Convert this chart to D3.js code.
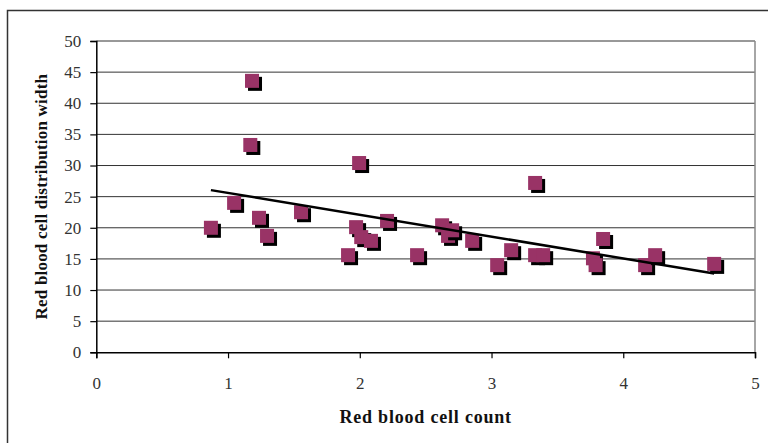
<!DOCTYPE html>
<html>
<head>
<meta charset="utf-8">
<script src="https://cdn.jsdelivr.net/npm/d3@7"></script>
<style>
  body { margin: 0; background: #fff; }
  svg { display: block; }
</style>
</head>
<body>
<script>
// data
var rbcCount = [0.87, 1.046, 1.169, 1.182, 1.235, 1.296, 1.554, 1.911, 1.972, 1.995,
                2.011, 2.085, 2.207, 2.435, 2.625, 2.670, 2.701, 2.853, 3.043, 3.149,
                3.331, 3.331, 3.392, 3.77, 3.79, 3.847, 4.166, 4.242, 4.69];
var rdw = [20.0, 24.0, 33.3, 43.6, 21.6, 18.7, 22.5, 15.6, 20.1, 30.4,
           18.5, 17.9, 21.1, 15.6, 20.4, 18.7, 19.6, 17.9, 14.0, 16.4,
           27.2, 15.6, 15.6, 15.1, 14.0, 18.2, 14.0, 15.6, 14.2];
var trendX = [0.87, 4.69];
var trendY = [26.05, 12.65];
var xTicks = [0, 1, 2, 3, 4, 5];
var yTicks = [0, 5, 10, 15, 20, 25, 30, 35, 40, 45, 50];

var W = 768, H = 443;
var plot = {left: 96.3, right: 755, top: 41, bottom: 352.3};
var font = "'Liberation Serif', 'Times New Roman', serif";

var svg = d3.select("body").append("svg")
    .attr("width", W)
    .attr("height", H);

// chart frame
svg.append("rect")
    .attr("x", 7.5).attr("y", 10.5)
    .attr("width", 800).attr("height", 500)
    .attr("fill", "#fff")
    .attr("stroke", "#333")
    .attr("stroke-width", 1.5);

var x = d3.scaleLinear().domain([0, 5]).range([plot.left, plot.right]);
var y = d3.scaleLinear().domain([0, 50]).range([plot.bottom, plot.top]);

// gridlines
svg.append("g")
  .selectAll("line")
    .data(yTicks.filter(function(d) { return d > 0; }))
  .enter().append("line")
    .attr("x1", plot.left).attr("x2", plot.right)
    .attr("y1", function(d) { return y(d); })
    .attr("y2", function(d) { return y(d); })
    .attr("stroke", "#333")
    .attr("stroke-width", 1);

// right edge of the plot area
svg.append("line")
    .attr("x1", plot.right).attr("x2", plot.right)
    .attr("y1", plot.top).attr("y2", plot.bottom)
    .attr("stroke", "#888")
    .attr("stroke-width", 1.5);

// axes
var yAxis = svg.append("g")
    .attr("transform", "translate(" + plot.left + ",0)")
    .call(d3.axisLeft(y).tickValues(yTicks).tickFormat(d3.format("d"))
        .tickSizeOuter(0).tickSize(6).tickPadding(9));
var xAxis = svg.append("g")
    .attr("transform", "translate(0," + plot.bottom + ")")
    .call(d3.axisBottom(x).tickValues(xTicks).tickFormat(d3.format("d"))
        .tickSizeOuter(0).tickSize(6).tickPadding(19));

[xAxis, yAxis].forEach(function(a) {
  a.select(".domain").attr("stroke", "#000").attr("stroke-width", 1.5);
  a.selectAll(".tick line").attr("stroke", "#000").attr("stroke-width", 1.2);
  a.selectAll(".tick text")
      .attr("font-family", font)
      .attr("font-size", 17)
      .attr("fill", "#333");
});

// markers: square with a black drop shadow
var pts = rbcCount.map(function(v, i) { return {x: v, y: rdw[i]}; });
var s = 14, off = 3;
var mk = svg.append("g").selectAll("g")
    .data(pts)
  .enter().append("g")
    .attr("transform", function(d) { return "translate(" + x(d.x) + "," + y(d.y) + ")"; });
mk.append("rect")
    .attr("x", -s / 2 + off).attr("y", -s / 2 + off)
    .attr("width", s).attr("height", s)
    .attr("fill", "#000");
mk.append("rect")
    .attr("x", -s / 2).attr("y", -s / 2)
    .attr("width", s).attr("height", s)
    .attr("fill", "#993366");

// linear trend line
svg.append("path")
    .datum(trendX.map(function(v, i) { return [v, trendY[i]]; }))
    .attr("fill", "none")
    .attr("stroke", "#000")
    .attr("stroke-width", 2.5)
    .attr("d", d3.line()
        .x(function(d) { return x(d[0]); })
        .y(function(d) { return y(d[1]); }));

// axis titles
svg.append("text")
    .attr("x", (plot.left + plot.right) / 2)
    .attr("y", 423)
    .attr("text-anchor", "middle")
    .attr("font-family", font)
    .attr("font-size", 18)
    .attr("font-weight", "bold")
    .attr("letter-spacing", 0.8)
    .attr("fill", "#111")
    .text("Red blood cell count");

svg.append("text")
    .attr("transform", "translate(47," + ((plot.top + plot.bottom) / 2) + ") rotate(-90)")
    .attr("text-anchor", "middle")
    .attr("font-family", font)
    .attr("font-size", 17)
    .attr("font-weight", "bold")
    .attr("letter-spacing", 0.2)
    .attr("fill", "#111")
    .text("Red blood cell distribution width");
</script>
</body>
</html>
